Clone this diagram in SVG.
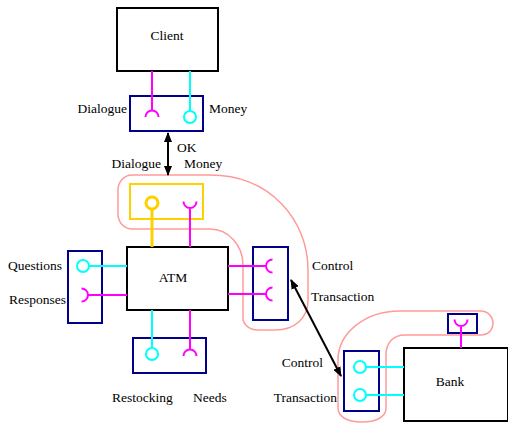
<svg xmlns="http://www.w3.org/2000/svg" width="508" height="423" viewBox="0 0 508 423">
<style>
text{font-family:"Liberation Serif","Times New Roman",serif;font-size:13.5px;fill:#000}
.comp{fill:#fff;stroke:#000;stroke-width:2}
.port{fill:none;stroke:#00008b;stroke-width:2}
.mg{fill:none;stroke:#ff00ff;stroke-width:2}
.cy{fill:none;stroke:#00ffff;stroke-width:2}
.yl{fill:none;stroke:#ffd000;stroke-width:3}
.grp{fill:none;stroke:#ff9a9a;stroke-width:1.5}
.arr{stroke:#000;stroke-width:2;fill:none;marker-start:url(#ah);marker-end:url(#ah)}
</style>
<defs>
<marker id="ah" viewBox="0 0 10 8" refX="9" refY="4" markerWidth="10" markerHeight="8" markerUnits="userSpaceOnUse" orient="auto-start-reverse">
<path d="M0,0 L10,4 L0,8 Z" fill="#000"/>
</marker>
</defs>
<g id="groups">
<path class="grp" d="M132,175 L210,175 C270,175 308,220 308,270 L308,300 C308,318 295,330 275,330 L258,330 C250,330 243,325 243,318 L243,265 C243,245 228,229 210,229 L132,229 C124,229 118,222 118,214 L118,190 C118,182 124,175 132,175 Z"/>
<path class="grp" d="M338,360 C338,333 365,311 400,311 L481,311 C488,311 493,317 493,323 C493,330 488,335 481,335 L405,335 C393,335 386,343 386,355 L386,408 C386,416 378,422 362,422 C346,422 338,416 338,408 Z"/>
</g>
<g id="client">
<rect class="comp" x="117" y="8" width="101" height="63"/>
<text x="167" y="40" text-anchor="middle">Client</text>
</g>
<g id="client-ports">
<rect class="port" x="130" y="96" width="73" height="35"/>
<text x="127" y="113" text-anchor="end">Dialogue</text>
<text x="209" y="113">Money</text>
</g>
<g id="atm">
<rect class="comp" x="127" y="247" width="101" height="63"/>
<text x="173" y="282" text-anchor="middle">ATM</text>
</g>
<g id="atm-top-ports">
<rect x="130" y="184" width="73" height="35" fill="none" stroke="#ffd000" stroke-width="2"/>
</g>
<g id="atm-left-ports">
<rect class="port" x="68" y="251" width="34" height="72"/>
<text x="62" y="270" text-anchor="end">Questions</text>
<text x="66" y="304" text-anchor="end">Responses</text>
</g>
<g id="atm-right-ports">
<rect class="port" x="253" y="247" width="35" height="73"/>
<text x="312" y="270">Control</text>
<text x="311" y="301">Transaction</text>
</g>
<g id="atm-bottom-ports">
<rect class="port" x="133" y="338" width="73" height="35"/>
<text x="112" y="402">Restocking</text>
<text x="193" y="402">Needs</text>
</g>
<g id="bank">
<rect class="comp" x="404" y="348" width="104" height="73"/>
<text x="450" y="386" text-anchor="middle">Bank</text>
</g>
<g id="bank-left-ports">
<rect class="port" x="344" y="351" width="35" height="60"/>
<text x="323" y="367" text-anchor="end">Control</text>
<text x="337" y="402" text-anchor="end">Transaction</text>
</g>
<g id="bank-top-ports">
<rect class="port" x="448" y="314" width="29" height="19"/>
</g>
<g id="connectors">
<path class="mg" d="M152,71 V110.5 M145.5,117 A6.5,6.5 0 0 1 158.5,117"/>
<path class="cy" d="M190,71 V111"/>
<circle class="cy" cx="190" cy="117" r="6"/>
<path class="yl" d="M152,209.5 V247"/>
<circle class="yl" cx="152" cy="203" r="6" stroke-width="2.5"/>
<path class="mg" d="M190,208 V247 M183.5,201.5 A6.5,6.5 0 0 0 196.5,201.5"/>
<path class="cy" d="M89,266 H127"/>
<circle class="cy" cx="83" cy="266" r="6"/>
<path class="mg" d="M88,295 H127 M81.5,288.5 A6.5,6.5 0 0 1 81.5,301.5"/>
<path class="mg" d="M228,266 H266 M272.5,259.5 A6.5,6.5 0 0 0 272.5,272.5"/>
<path class="mg" d="M228,294 H266 M272.5,287.5 A6.5,6.5 0 0 0 272.5,300.5"/>
<path class="cy" d="M152,310 V348"/>
<circle class="cy" cx="152" cy="354" r="6"/>
<path class="mg" d="M190,310 V349.5 M183.5,356 A6.5,6.5 0 0 1 196.5,356"/>
<path class="cy" d="M366,367 H404"/>
<circle class="cy" cx="360" cy="367" r="6"/>
<path class="cy" d="M366,395 H404"/>
<circle class="cy" cx="360" cy="395" r="6"/>
<path class="mg" d="M461,326 V348 M454.5,319.5 A6.5,6.5 0 0 0 467.5,319.5"/>
<path class="arr" d="M168,133 V175"/>
<path class="arr" d="M291,280 L341,376"/>
</g>
<text x="177" y="152">OK</text>
<text x="161" y="168" text-anchor="end">Dialogue</text>
<text x="184" y="168">Money</text>
</svg>
